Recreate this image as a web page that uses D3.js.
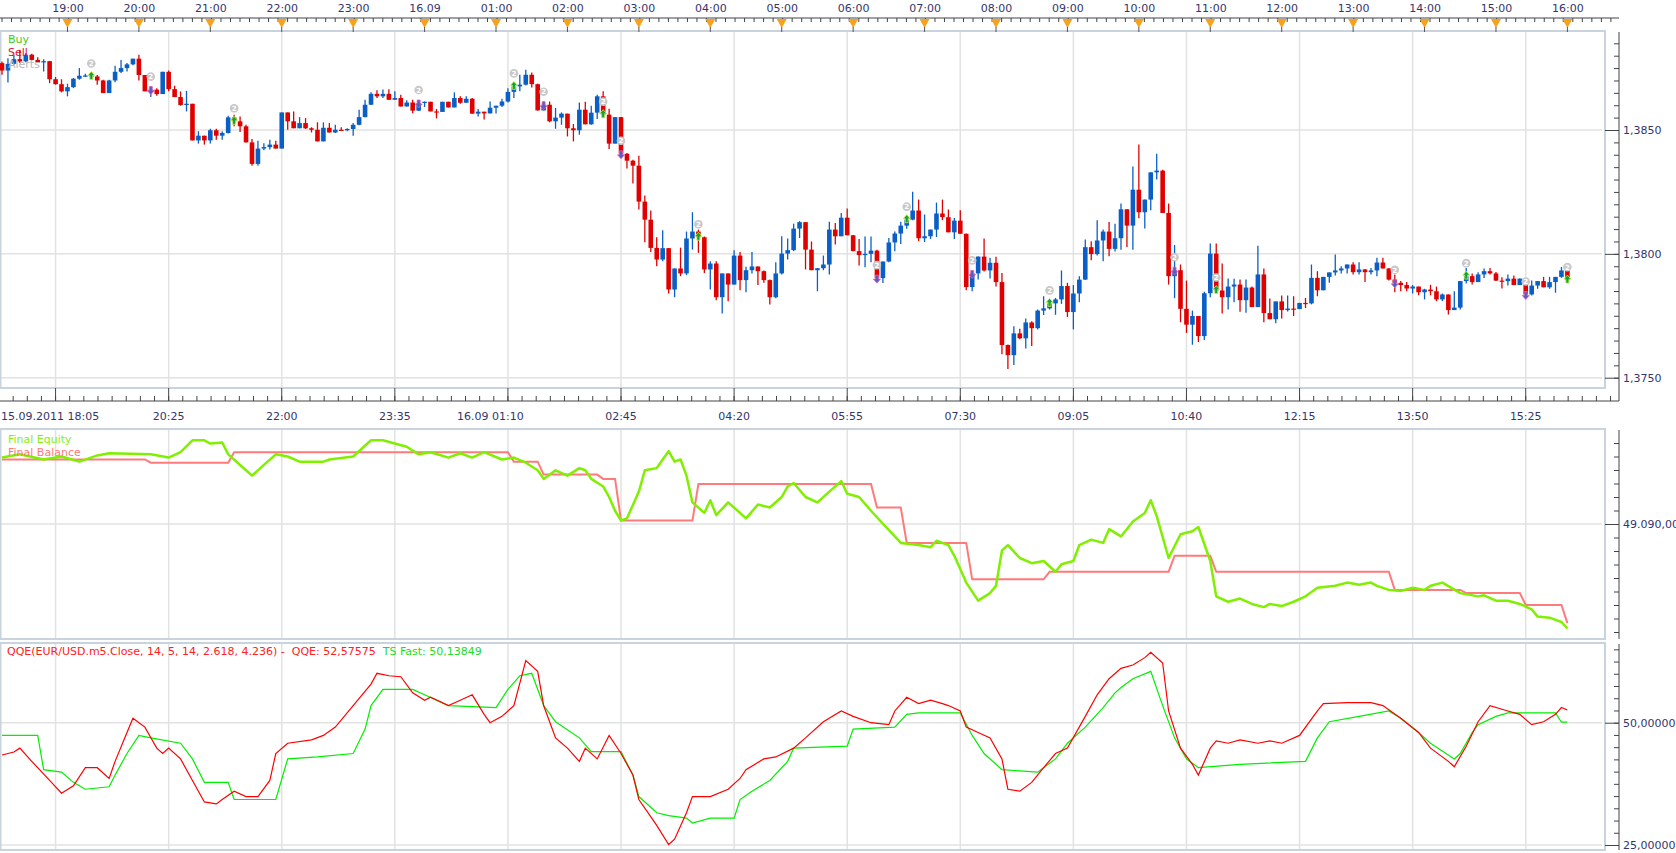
<!DOCTYPE html>
<html>
<head>
<meta charset="utf-8">
<script src="https://cdnjs.cloudflare.com/ajax/libs/d3/7.8.5/d3.min.js"></script>
<style>
  body { margin: 0; background: #fff; overflow: hidden; }
</style>
</head>
<body>
<div id="chart"></div>
<script>
// EUR/USD m5, 15.09.2011 18:05 .. 16.09.2011 16:00 (bar 0 .. 263)
const firstOpen = 1.38770;

const closes = [
  1.38740,1.38767,1.38786,1.38777,1.38804,1.38783,1.38773,1.38778,1.38705,1.38685,
  1.38656,1.38673,1.38707,1.38719,1.38720,1.38716,1.38700,1.38649,1.38700,1.38735,
  1.38750,1.38765,1.38788,1.38722,1.38656,1.38663,1.38645,1.38735,1.38665,1.38633,
  1.38601,1.38606,1.38458,1.38477,1.38458,1.38499,1.38477,1.38488,1.38551,1.38535,
  1.38515,1.38450,1.38363,1.38425,1.38431,1.38441,1.38425,1.38571,1.38535,1.38507,
  1.38528,1.38507,1.38501,1.38454,1.38509,1.38490,1.38501,1.38499,1.38504,1.38521,
  1.38552,1.38602,1.38646,1.38636,1.38646,1.38622,1.38629,1.38595,1.38611,1.38578,
  1.38609,1.38614,1.38575,1.38573,1.38614,1.38591,1.38629,1.38610,1.38626,1.38566,
  1.38574,1.38567,1.38590,1.38598,1.38615,1.38654,1.38676,1.38683,1.38723,1.38685,
  1.38579,1.38602,1.38535,1.38550,1.38566,1.38507,1.38499,1.38582,1.38523,1.38570,
  1.38636,1.38562,1.38445,1.38552,1.38404,1.38376,1.38356,1.38211,1.38138,1.38024,
  1.37977,1.38023,1.37856,1.37941,1.37921,1.38062,1.38090,1.38067,1.37937,1.37961,
  1.37825,1.37921,1.37876,1.37993,1.37894,1.37934,1.37949,1.37930,1.37894,1.37825,
  1.37921,1.38001,1.38015,1.38102,1.38128,1.38017,1.37934,1.37942,1.37957,1.38098,
  1.38071,1.38146,1.38075,1.38011,1.37995,1.38000,1.38013,1.37902,1.37969,1.38046,
  1.38082,1.38114,1.38138,1.38175,1.38063,1.38071,1.38098,1.38163,1.38148,1.38087,
  1.38134,1.38081,1.37866,1.37921,1.37989,1.37933,1.37964,1.37886,1.37632,1.37591,
  1.37679,1.37659,1.37723,1.37700,1.37771,1.37780,1.37800,1.37816,1.37870,1.37765,
  1.37840,1.37896,1.38027,1.37999,1.38054,1.38090,1.38020,1.38063,1.38180,1.38114,
  1.38259,1.38168,1.38219,1.38329,1.38336,1.38165,1.37910,1.37934,1.37778,1.37714,
  1.37749,1.37668,1.37841,1.38001,1.37852,1.37825,1.37868,1.37876,1.37813,1.37864,
  1.37785,1.37917,1.37761,1.37736,1.37808,1.37773,1.37779,1.37777,1.37802,1.37800,
  1.37903,1.37853,1.37907,1.37925,1.37933,1.37941,1.37957,1.37926,1.37937,1.37926,
  1.37933,1.37965,1.37941,1.37896,1.37883,1.37874,1.37860,1.37868,1.37845,1.37856,
  1.37849,1.37816,1.37836,1.37773,1.37783,1.37890,1.37910,1.37886,1.37917,1.37930,
  1.37921,1.37892,1.37890,1.37900,1.37874,1.37900,1.37836,1.37872,1.37890,1.37865,
  1.37886,1.37907,1.37933,1.37894
];

const highs = [
  1.38777,1.38790,1.38804,1.38824,1.38810,1.38808,1.38794,1.38786,1.38779,1.38714,
  1.38705,1.38687,1.38710,1.38750,1.38727,1.38730,1.38722,1.38703,1.38703,1.38759,
  1.38783,1.38770,1.38788,1.38804,1.38722,1.38676,1.38669,1.38735,1.38740,1.38679,
  1.38656,1.38658,1.38602,1.38495,1.38477,1.38505,1.38505,1.38495,1.38558,1.38562,
  1.38555,1.38521,1.38464,1.38457,1.38447,1.38461,1.38457,1.38571,1.38571,1.38575,
  1.38552,1.38548,1.38511,1.38531,1.38531,1.38528,1.38521,1.38511,1.38507,1.38528,
  1.38582,1.38622,1.38652,1.38660,1.38663,1.38665,1.38656,1.38642,1.38620,1.38622,
  1.38615,1.38615,1.38611,1.38585,1.38614,1.38614,1.38652,1.38636,1.38636,1.38629,
  1.38585,1.38574,1.38615,1.38598,1.38626,1.38669,1.38687,1.38723,1.38743,1.38732,
  1.38687,1.38615,1.38615,1.38589,1.38571,1.38566,1.38524,1.38611,1.38614,1.38598,
  1.38642,1.38656,1.38586,1.38552,1.38552,1.38407,1.38380,1.38396,1.38236,1.38175,
  1.38067,1.38095,1.38023,1.37941,1.38025,1.38090,1.38168,1.38098,1.38070,1.37970,
  1.37970,1.37921,1.37921,1.38015,1.38007,1.37948,1.38007,1.37949,1.37933,1.37896,
  1.37966,1.38071,1.38062,1.38122,1.38132,1.38128,1.38050,1.37942,1.37993,1.38130,
  1.38125,1.38165,1.38183,1.38076,1.38060,1.38070,1.38070,1.38017,1.37969,1.38064,
  1.38090,1.38130,1.38152,1.38251,1.38219,1.38159,1.38098,1.38207,1.38219,1.38179,
  1.38145,1.38176,1.38082,1.37930,1.37989,1.38062,1.37984,1.37988,1.37923,1.37634,
  1.37708,1.37698,1.37739,1.37728,1.37775,1.37829,1.37805,1.37822,1.37933,1.37883,
  1.37874,1.37910,1.38058,1.38051,1.38136,1.38098,1.38129,1.38122,1.38203,1.38180,
  1.38353,1.38441,1.38219,1.38329,1.38404,1.38340,1.38203,1.38036,1.37957,1.37892,
  1.37771,1.37749,1.37847,1.38042,1.38042,1.37961,1.37900,1.37899,1.37896,1.37896,
  1.37868,1.38033,1.37941,1.37820,1.37808,1.37832,1.37832,1.37829,1.37802,1.37822,
  1.37957,1.37930,1.37907,1.37925,1.37997,1.37950,1.37957,1.37966,1.37966,1.37939,
  1.37943,1.37984,1.37984,1.37943,1.37917,1.37890,1.37886,1.37874,1.37868,1.37859,
  1.37875,1.37868,1.37840,1.37836,1.37849,1.37890,1.37943,1.37921,1.37926,1.37941,
  1.37943,1.37927,1.37906,1.37917,1.37913,1.37900,1.37900,1.37892,1.37890,1.37907,
  1.37907,1.37907,1.37947,1.37950
];

const lows = [
  1.38723,1.38692,1.38763,1.38770,1.38774,1.38781,1.38770,1.38736,1.38689,1.38683,
  1.38652,1.38636,1.38669,1.38703,1.38714,1.38714,1.38683,1.38649,1.38649,1.38693,
  1.38730,1.38736,1.38761,1.38700,1.38656,1.38633,1.38638,1.38645,1.38656,1.38633,
  1.38598,1.38575,1.38458,1.38445,1.38441,1.38446,1.38461,1.38461,1.38486,1.38515,
  1.38492,1.38450,1.38356,1.38356,1.38418,1.38421,1.38425,1.38426,1.38501,1.38507,
  1.38507,1.38504,1.38490,1.38454,1.38454,1.38490,1.38488,1.38499,1.38495,1.38477,
  1.38519,1.38551,1.38601,1.38629,1.38629,1.38622,1.38622,1.38595,1.38595,1.38568,
  1.38578,1.38593,1.38575,1.38547,1.38575,1.38591,1.38591,1.38606,1.38611,1.38566,
  1.38555,1.38542,1.38567,1.38567,1.38593,1.38611,1.38629,1.38656,1.38680,1.38672,
  1.38579,1.38579,1.38531,1.38505,1.38521,1.38474,1.38454,1.38481,1.38523,1.38521,
  1.38544,1.38548,1.38423,1.38445,1.38404,1.38345,1.38284,1.38179,1.38047,1.38007,
  1.37950,1.37970,1.37840,1.37825,1.37910,1.37914,1.38017,1.38004,1.37923,1.37856,
  1.37813,1.37759,1.37809,1.37876,1.37853,1.37845,1.37921,1.37874,1.37883,1.37796,
  1.37821,1.37917,1.37977,1.38011,1.38064,1.37937,1.37934,1.37849,1.37934,1.37917,
  1.38038,1.38071,1.38075,1.38011,1.37953,1.37946,1.37966,1.37902,1.37882,1.37966,
  1.38011,1.38040,1.38101,1.38136,1.38051,1.38048,1.38060,1.38068,1.38136,1.38087,
  1.38060,1.38081,1.37853,1.37849,1.37896,1.37929,1.37900,1.37868,1.37595,1.37535,
  1.37551,1.37655,1.37618,1.37628,1.37695,1.37753,1.37775,1.37754,1.37798,1.37745,
  1.37695,1.37805,1.37894,1.37974,1.37993,1.37970,1.37990,1.38009,1.38017,1.38028,
  1.38017,1.38144,1.38102,1.38176,1.38300,1.38165,1.37876,1.37821,1.37724,1.37681,
  1.37633,1.37644,1.37652,1.37825,1.37849,1.37759,1.37775,1.37805,1.37766,1.37762,
  1.37785,1.37785,1.37724,1.37736,1.37720,1.37739,1.37767,1.37749,1.37777,1.37781,
  1.37796,1.37829,1.37853,1.37883,1.37913,1.37921,1.37921,1.37917,1.37917,1.37886,
  1.37917,1.37910,1.37941,1.37892,1.37845,1.37849,1.37849,1.37840,1.37833,1.37816,
  1.37833,1.37809,1.37809,1.37755,1.37773,1.37775,1.37880,1.37876,1.37886,1.37902,
  1.37917,1.37890,1.37860,1.37872,1.37874,1.37874,1.37836,1.37832,1.37859,1.37865,
  1.37859,1.37843,1.37903,1.37894
];

// trade signals (bar index)
const signalBars = [15, 25, 39, 70, 86, 91, 101, 104, 117, 147, 152, 163, 176, 197, 204, 234, 246, 256, 263];
const signalSide = ["buy","sell","buy","sell","buy","sell","buy","sell","buy","sell",
                    "buy","sell","buy","sell","buy","sell","buy","sell","buy"];

// Final Equity (bar, value)
const equityBars = [
  0, 3, 7, 10, 13, 16, 18, 25, 28, 30, 32, 34, 35, 37, 38, 41, 42, 44, 46, 48,
  50, 54, 55, 59, 62, 64, 66, 68, 70, 72, 75, 77, 79, 81, 84, 86, 88, 90, 91, 93,
  95, 97, 98, 99, 101, 102, 103, 104, 105, 107, 108, 110, 111, 112, 113, 114, 115, 116, 118, 119,
  120, 122, 124, 125, 127, 129, 131, 132, 133, 135, 137, 139, 141, 142, 144, 146, 148, 150, 151, 154,
  156, 157, 159, 160, 162, 164, 166, 167, 168, 169, 171, 173, 175, 177, 178, 180, 181, 183, 185, 186,
  188, 190, 192, 193, 194, 196, 198, 200, 201, 203, 204, 206, 208, 210, 212, 213, 215, 217, 219, 221,
  224, 226, 228, 230, 231, 233, 235, 237, 239, 240, 242, 245, 248, 249, 251, 253, 255, 257, 258, 260,
  262, 263];
const equityVals = [
  49114.6, 49115.8, 49113.9, 49115.0, 49113.1, 49115.4, 49116.2, 49115.8, 49114.6, 49116.6,
  49121.0, 49121.0, 49119.8, 49120.2, 49115.8, 49109.9, 49107.9, 49111.9, 49115.8, 49115.0,
  49113.1, 49113.1, 49113.9, 49115.0, 49121.0, 49121.0, 49119.8, 49118.6, 49115.8, 49116.6,
  49114.6, 49116.2, 49114.6, 49116.6, 49113.9, 49114.6, 49112.7, 49109.9, 49106.7, 49109.9,
  49107.9, 49110.7, 49109.9, 49106.7, 49103.9, 49100.0, 49094.9, 49091.3, 49092.1, 49102.0,
  49109.9, 49110.7, 49113.9, 49117.0, 49113.1, 49113.9, 49107.9, 49098.0, 49094.1, 49098.8,
  49093.3, 49098.0, 49094.1, 49092.1, 49097.2, 49096.1, 49100.0, 49103.9, 49105.2, 49100.0,
  49098.0, 49102.0, 49105.9, 49101.2, 49100.0, 49094.9, 49090.1, 49085.4, 49083.0, 49082.2,
  49081.4, 49083.8, 49082.2, 49078.2, 49068.3, 49061.6, 49064.4, 49067.1, 49080.2, 49082.2,
  49077.4, 49075.5, 49076.3, 49072.3, 49075.1, 49076.3, 49082.2, 49084.2, 49083.0, 49088.1,
  49085.4, 49090.9, 49094.1, 49098.8, 49092.9, 49077.4, 49086.2, 49087.3, 49088.9, 49076.3,
  49063.2, 49061.2, 49062.4, 49060.4, 49059.2, 49060.4, 49059.6, 49061.2, 49063.2, 49066.4,
  49067.1, 49068.3, 49067.5, 49068.3, 49067.1, 49065.6, 49065.2, 49066.4, 49065.6, 49067.1,
  49068.3, 49064.4, 49063.2, 49063.6, 49061.6, 49061.6, 49060.4, 49058.4, 49055.7, 49055.3,
  49053.7, 49051.3];

// Final Balance: value after each closed trade (bar, value)
const balanceBars = [0, 25, 39, 86, 91, 101, 104, 117, 147, 152, 163, 176, 197, 204, 234, 246, 256, 263];
const balanceVals = [49113.9, 49112.7, 49116.6, 49113.1, 49108.3, 49106.7, 49091.3, 49104.8, 49096.1, 49083.0,
                     49069.5, 49072.3, 49078.2, 49072.3, 49065.6, 49064.4, 49060.0, 49053.3];

// QQE indicator (bar, value)
const qqeBars = [
  0, 2, 3, 5, 8, 10, 12, 14, 16, 18, 19, 21, 22, 24, 26, 27, 28, 30, 32, 34,
  36, 37, 39, 41, 43, 45, 46, 48, 52, 54, 56, 59, 62, 63, 65, 67, 69, 71, 72, 75,
  77, 79, 81, 82, 84, 86, 88, 90, 91, 93, 95, 97, 98, 100, 102, 104, 106, 107, 110, 112,
  113, 115, 116, 119, 122, 124, 125, 128, 130, 133, 135, 138, 141, 143, 146, 149, 150, 152, 154, 156,
  158, 159, 161, 162, 164, 166, 168, 169, 171, 173, 175, 177, 179, 182, 184, 186, 188, 190, 192, 193,
  195, 196, 198, 200, 201, 203, 204, 206, 208, 211, 213, 215, 218, 221, 222, 226, 230, 232, 235, 238,
  240, 243, 244, 246, 248, 250, 253, 255, 257, 259, 261, 262, 263];
const qqeVals = [
  43.4, 44.0, 44.8, 42.1, 38.2, 35.6, 37.1, 40.8, 40.8, 38.6, 42.1, 48.0, 50.9, 49.1, 44.8, 43.7, 44.8, 42.6, 38.2, 33.8,
  33.4, 34.3, 36.0, 34.9, 34.9, 38.2, 43.7, 45.8, 46.5, 47.4, 49.1, 53.5, 57.9, 60.1, 59.6, 59.4, 56.1, 54.6, 55.2, 53.5,
  54.6, 55.7, 51.7, 50.0, 51.3, 53.5, 62.7, 60.5, 53.5, 46.9, 44.8, 42.1, 44.8, 42.6, 47.4, 43.7, 39.3, 34.3, 29.0, 25.1,
  26.2, 31.6, 34.9, 34.9, 36.4, 38.6, 40.4, 42.6, 43.0, 44.8, 46.9, 50.2, 52.4, 51.3, 50.0, 49.6, 52.4, 55.2, 53.9, 54.6,
  53.9, 53.5, 52.4, 49.1, 48.0, 46.9, 42.6, 36.4, 36.0, 37.8, 40.8, 43.7, 44.8, 51.3, 55.7, 59.0, 61.1, 61.8, 63.3, 64.4,
  62.2, 52.4, 44.8, 41.5, 39.3, 44.8, 46.3, 45.8, 46.5, 45.8, 46.3, 45.8, 47.4, 52.4, 53.9, 54.1, 54.1, 53.5, 50.9, 48.0,
  44.8, 42.1, 41.0, 45.2, 50.2, 53.5, 52.4, 51.7, 49.6, 50.2, 51.7, 53.1, 52.6];
// TS Fast trailing line (bar, value)
const tsBars = [
  0, 6, 7, 10, 12, 14, 18, 19, 21, 23, 25, 30, 32, 34, 38, 39, 46, 48, 53, 59,
  61, 62, 64, 69, 71, 75, 83, 85, 87, 89, 91, 93, 97, 99, 104, 106, 107, 110, 112, 115,
  116, 119, 123, 124, 126, 129, 132, 133, 142, 143, 150, 152, 154, 161, 163, 165, 168, 174, 177, 179,
  182, 185, 187, 188, 190, 193, 195, 197, 199, 201, 208, 219, 221, 223, 228, 233, 235, 238, 240, 244,
  245, 247, 248, 251, 253, 261, 262, 263];
const tsVals = [
  47.4, 47.4, 40.4, 39.9, 37.8, 36.4, 36.9, 39.3, 43.7, 47.4, 46.9, 45.8, 42.6, 37.8, 37.8, 34.3, 34.3, 42.6, 43.0, 43.7,
  48.7, 53.5, 56.8, 56.8, 55.7, 53.5, 53.1, 56.8, 59.6, 60.1, 53.5, 50.2, 46.9, 44.1, 44.1, 39.3, 34.9, 31.6, 31.0, 30.5,
  29.5, 30.5, 30.5, 34.3, 36.0, 38.2, 42.1, 44.8, 45.2, 48.7, 49.1, 51.7, 52.0, 52.0, 47.4, 43.7, 40.4, 39.9, 42.6, 45.8,
  49.1, 53.1, 56.1, 57.2, 59.0, 60.5, 53.5, 46.9, 42.6, 40.8, 41.5, 42.1, 46.9, 50.2, 51.3, 52.4, 50.9, 48.0, 45.8, 42.6,
  43.7, 48.0, 49.6, 51.3, 52.0, 52.0, 50.1, 50.1];

// time axes
const topTickBars = [11, 23, 35, 47, 59, 71, 83, 95, 107, 119, 131, 143, 155, 167, 179, 191, 203, 215, 227, 239, 251, 263];
const topTickLabels = ["19:00","20:00","21:00","22:00","23:00","16.09","01:00","02:00","03:00","04:00","05:00",
                       "06:00","07:00","08:00","09:00","10:00","11:00","12:00","13:00","14:00","15:00","16:00"];
const gridBars = [9, 28, 47, 66, 85, 104, 123, 142, 161, 180, 199, 218, 237, 256];
const bottomLabels = ["", "20:25", "22:00", "23:35", "16.09 01:10", "02:45", "04:20", "05:55", "07:30",
                      "09:05", "10:40", "12:15", "13:50", "15:25"];
const firstLabel = "15.09.2011 18:05";

// ---------------------------------------------------------------
const W = 1676, H = 853;
const textColor = "#35356b";
const gridColor = "#e2e2e2";
const frameColor = "#c9d3de";
const axisX = 1619, plotRight = 1605;

const svg = d3.select("#chart").append("svg")
  .attr("width", W)
  .attr("height", H)
  .style("font-family", "'DejaVu Sans', Verdana, sans-serif")
  .style("font-size", "11px");

const x = d3.scaleLinear().domain([0, 263]).range([2, 1567.4]);
const yP = d3.scaleLinear().domain([1.375, 1.385]).range([377.7, 130]);
const yE = d3.scaleLinear().domain([49090, 49100]).range([524, 497]);
const yQ = d3.scaleLinear().domain([25, 50]).range([845, 722.7]);

const panels = [
  { top: 31, bottom: 388, y: yP, grid: [1.375, 1.38, 1.385], minor: 0.0005,
    labels: [1.375, 1.38, 1.385], fmt: d => d3.format(".4f")(d).replace(".", ",") },
  { top: 429, bottom: 639, y: yE, grid: [49090], minor: 5,
    labels: [49090], fmt: d => "49.090,00" },
  { top: 643, bottom: 850, y: yQ, grid: [25, 50], minor: 2.5,
    labels: [25, 50], fmt: d => d3.format(".5f")(d).replace(".", ",") }
];

// panels: grid + frame + right axis
panels.forEach(p => {
  const g = svg.append("g");
  g.selectAll(".vg").data(gridBars).enter().append("line")
    .attr("x1", d => x(d)).attr("x2", d => x(d))
    .attr("y1", p.top).attr("y2", p.bottom)
    .attr("stroke", gridColor).attr("stroke-width", 1.5);
  g.selectAll(".hg").data(p.grid).enter().append("line")
    .attr("x1", 0).attr("x2", plotRight - 3)
    .attr("y1", d => p.y(d)).attr("y2", d => p.y(d))
    .attr("stroke", gridColor).attr("stroke-width", 1.5);
  g.append("rect")
    .attr("x", 0.5).attr("y", p.top)
    .attr("width", plotRight - 0.5).attr("height", p.bottom - p.top)
    .attr("fill", "none").attr("stroke", frameColor).attr("stroke-width", 2);

  // minor ticks
  const [lo, hi] = d3.extent([p.y.invert(p.top), p.y.invert(p.bottom)]);
  const minorTicks = d3.range(Math.ceil(lo / p.minor) * p.minor, hi, p.minor)
    .filter(v => p.y(v) > p.top + 2 && p.y(v) < p.bottom - 1);
  svg.append("g")
    .attr("transform", `translate(${axisX},0)`)
    .call(d3.axisRight(p.y).tickValues(minorTicks).tickSize(-5).tickFormat(""))
    .call(a => a.select(".domain").remove())
    .call(a => a.selectAll("line").attr("stroke", "#444"));
  // labelled ticks
  svg.append("g")
    .attr("transform", `translate(${axisX},0)`)
    .call(d3.axisRight(p.y).tickValues(p.labels).tickSize(-14).tickPadding(4).tickFormat(p.fmt))
    .call(a => a.select(".domain").remove())
    .call(a => a.selectAll("line").attr("stroke", "#444"))
    .call(a => a.selectAll("text").attr("fill", textColor)
      .style("font-family", "'DejaVu Sans', Verdana, sans-serif").style("font-size", "11px"));
  svg.append("line")
    .attr("x1", axisX).attr("x2", axisX)
    .attr("y1", p.top + 1).attr("y2", p.bottom + (p.top === 31 ? 13 : 0))
    .attr("stroke", "#444").attr("stroke-width", 1);
});

// ---------------- top time axis
svg.append("line").attr("x1", 0).attr("x2", axisX).attr("y1", 18).attr("y2", 18)
  .attr("stroke", "#444");
svg.append("g").selectAll("line").data(d3.range(2, axisX, 9.52)).enter().append("line")
  .attr("x1", d => d).attr("x2", d => d).attr("y1", 18).attr("y2", 22)
  .attr("stroke", "#444");
svg.append("g")
  .attr("transform", "translate(0,18)")
  .call(d3.axisTop(x).tickValues(topTickBars).tickSize(0).tickPadding(6)
    .tickFormat((d, i) => topTickLabels[i]))
  .call(a => a.select(".domain").remove())
  .call(a => a.selectAll("text").attr("fill", textColor)
    .style("font-family", "'DejaVu Sans', Verdana, sans-serif").style("font-size", "11px"));
const tri = svg.append("g");
topTickBars.forEach(b => {
  const cx = x(b);
  tri.append("path")
    .attr("d", `M${cx - 5},19 L${cx + 5},19 L${cx},28 Z`)
    .attr("fill", "#f7a21c");
  tri.append("line").attr("x1", cx).attr("x2", cx).attr("y1", 27).attr("y2", 32)
    .attr("stroke", "#555");
});

// ---------------- bottom time axis (under price panel)
svg.append("line").attr("x1", 0).attr("x2", axisX).attr("y1", 401).attr("y2", 401)
  .attr("stroke", "#444");
const subStep = (x(gridBars[1]) - x(gridBars[0])) / 8;
svg.append("g").selectAll("line").data(d3.range(x(gridBars[0]) - subStep * 6, axisX, subStep)).enter()
  .append("line")
  .attr("x1", d => d).attr("x2", d => d).attr("y1", 396).attr("y2", 401)
  .attr("stroke", "#444");
svg.append("g").selectAll("line").data(gridBars).enter().append("line")
  .attr("x1", d => x(d)).attr("x2", d => x(d)).attr("y1", 388).attr("y2", 401)
  .attr("stroke", "#444");
const bl = svg.append("g").attr("fill", textColor);
bl.append("text").attr("x", 1).attr("y", 420).text(firstLabel);
gridBars.forEach((b, i) => {
  const label = bottomLabels[i];
  if (!label) return;
  const parts = label.split(" ");
  const time = parts[parts.length - 1];
  const t = bl.append("text").attr("x", x(b)).attr("y", 420).attr("text-anchor", "middle").text(time);
  if (parts.length > 1) {
    const half = t.node().getComputedTextLength() / 2;
    bl.append("text").attr("x", x(b) - half).attr("y", 420).attr("text-anchor", "end")
      .text(parts[0] + "\u00a0");
  }
});

// ---------------- candles
const bars = closes.map((c, i) => ({
  i, c,
  o: i === 0 ? firstOpen : closes[i - 1],
  h: highs[i], l: lows[i]
}));
const upColor = "#0a5fc6", downColor = "#e00000";
const candles = svg.append("g");
candles.selectAll(".wick").data(bars).enter().append("line")
  .attr("x1", d => x(d.i)).attr("x2", d => x(d.i))
  .attr("y1", d => yP(Math.max(d.h, d.o, d.c)))
  .attr("y2", d => yP(Math.min(d.l, d.o, d.c)))
  .attr("stroke", d => d.c >= d.o ? upColor : downColor)
  .attr("stroke-width", 1.3);
candles.selectAll(".body").data(bars).enter().append("rect")
  .attr("x", d => x(d.i) - 2.3)
  .attr("width", 4.6)
  .attr("y", d => yP(Math.max(d.o, d.c)))
  .attr("height", d => Math.max(1.2, yP(Math.min(d.o, d.c)) - yP(Math.max(d.o, d.c))))
  .attr("fill", d => d.c >= d.o ? upColor : downColor);

// ---------------- trade signals
const sig = svg.append("g");
signalBars.forEach((b, k) => {
  const cx = x(b), cy = yP(closes[b]);
  if (signalSide[k] === "buy") {
    sig.append("path")
      .attr("d", `M${cx},${cy - 5} L${cx + 3.5},${cy - 1} L${cx + 1.5},${cy - 1} L${cx + 1.5},${cy + 3} L${cx - 1.5},${cy + 3} L${cx - 1.5},${cy - 1} L${cx - 3.5},${cy - 1} Z`)
      .attr("fill", "#10a040").attr("stroke", "#c8f040").attr("stroke-width", 0.8);
  } else {
    sig.append("path")
      .attr("d", `M${cx},${cy + 5} L${cx + 3.5},${cy + 1} L${cx + 1.5},${cy + 1} L${cx + 1.5},${cy - 3} L${cx - 1.5},${cy - 3} L${cx - 1.5},${cy + 1} L${cx - 3.5},${cy + 1} Z`)
      .attr("fill", "#5060c0").attr("stroke", "#e060c0").attr("stroke-width", 0.8);
  }
  sig.append("circle").attr("cx", cx).attr("cy", cy - 13).attr("r", 4.3)
    .attr("fill", "#c8c8c8");
  sig.append("text").attr("x", cx).attr("y", cy - 10.3).attr("text-anchor", "middle")
    .style("font-size", "7px").style("font-weight", "bold").attr("fill", "#fff").text("2");
});

// legend of price panel
const lg = svg.append("g");
lg.append("text").attr("x", 8).attr("y", 43).attr("fill", "#44cc22").text("Buy");
lg.append("text").attr("x", 8).attr("y", 55.5).attr("fill", "#dd1133").text("Sell");
lg.append("text").attr("x", 8).attr("y", 68).attr("fill", "#b8b8b8").text("Alerts");

// ---------------- equity panel
const balancePts = [];
balanceBars.forEach((b, k) => {
  if (k > 0 && b - 1 > balanceBars[k - 1]) balancePts.push([b - 1, balanceVals[k - 1]]);
  balancePts.push([b, balanceVals[k]]);
});
svg.append("path")
  .datum(balancePts)
  .attr("d", d3.line().x(d => x(d[0])).y(d => yE(d[1])))
  .attr("fill", "none").attr("stroke", "#ff7a7a").attr("stroke-width", 2);
svg.append("path")
  .datum(equityBars.map((b, k) => [b, equityVals[k]]))
  .attr("d", d3.line().x(d => x(d[0])).y(d => yE(d[1])))
  .attr("fill", "none").attr("stroke", "#80f000").attr("stroke-width", 2.5)
  .attr("stroke-linejoin", "round");
svg.append("text").attr("x", 8).attr("y", 443).attr("fill", "#88ee11").text("Final Equity");
svg.append("text").attr("x", 8).attr("y", 455.5).attr("fill", "#ff7a7a").text("Final Balance");

// ---------------- QQE panel
svg.append("path")
  .datum(tsBars.map((b, k) => [b, tsVals[k]]))
  .attr("d", d3.line().x(d => x(d[0])).y(d => yQ(d[1])))
  .attr("fill", "none").attr("stroke", "#00ee00").attr("stroke-width", 1.2);
svg.append("path")
  .datum(qqeBars.map((b, k) => [b, qqeVals[k]]))
  .attr("d", d3.line().x(d => x(d[0])).y(d => yQ(d[1])))
  .attr("fill", "none").attr("stroke", "#ff0000").attr("stroke-width", 1.2);
const qt = svg.append("text").attr("x", 7).attr("y", 655);
qt.append("tspan").attr("fill", "#ff2020")
  .text("QQE(EUR/USD.m5.Close, 14, 5, 14, 2.618, 4.236) -\u00a0\u00a0QQE: 52,57575");
qt.append("tspan").attr("fill", "#22dd22").attr("dx", 7).text("TS Fast: 50,13849");
</script>
</body>
</html>
